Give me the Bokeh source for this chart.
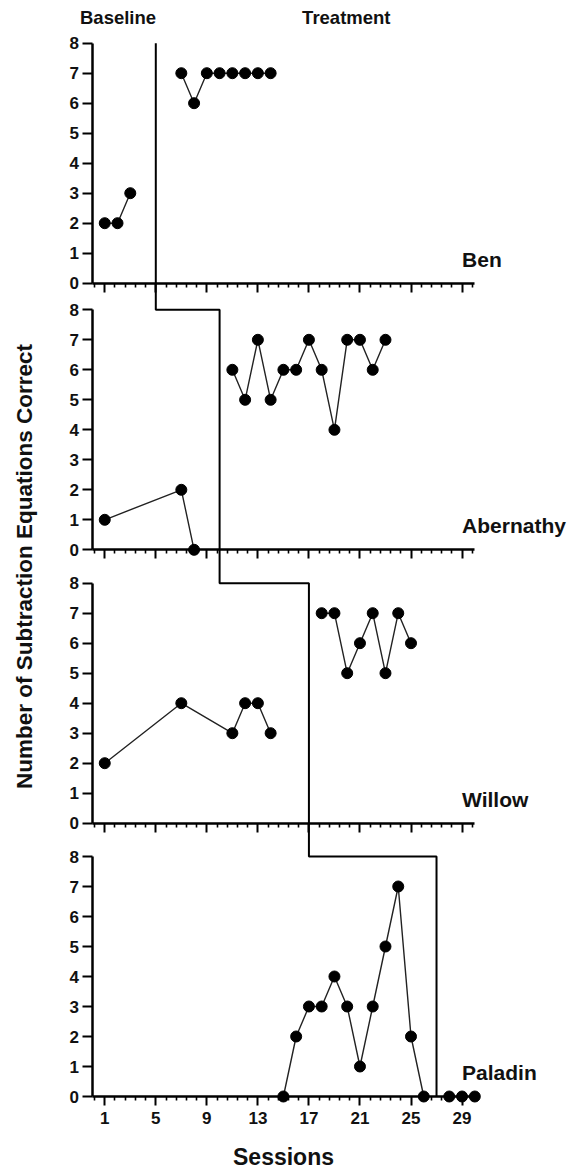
from bokeh.plotting import figure
from bokeh.models import Range1d, LinearAxis, FixedTicker
from bokeh.core.properties import value
from bokeh.embed import file_html
from bokeh.resources import INLINE

# ---------------- data ----------------
participants = ["Ben", "Abernathy", "Willow", "Paladin"]
phase_labels = ["Baseline", "Treatment"]
session_ticks = [1, 5, 9, 13, 17, 21, 25, 29]
count_ticks = [0, 1, 2, 3, 4, 5, 6, 7, 8]
phase_change = [5, 10, 17, 27]

ben_base_x = [1, 2, 3]
ben_base_y = [2, 2, 3]
ben_tx_x = [7, 8, 9, 10, 11, 12, 13, 14]
ben_tx_y = [7, 6, 7, 7, 7, 7, 7, 7]

abernathy_base_x = [1, 7, 8]
abernathy_base_y = [1, 2, 0]
abernathy_tx_x = [11, 12, 13, 14, 15, 16, 17, 18, 19, 20, 21, 22, 23]
abernathy_tx_y = [6, 5, 7, 5, 6, 6, 7, 6, 4, 7, 7, 6, 7]

willow_base_x = [1, 7, 11, 12, 13, 14]
willow_base_y = [2, 4, 3, 4, 4, 3]
willow_tx_x = [18, 19, 20, 21, 22, 23, 24, 25]
willow_tx_y = [7, 7, 5, 6, 7, 5, 7, 6]

paladin_base_x = [15, 16, 17, 18, 19, 20, 21, 22, 23, 24, 25, 26]
paladin_base_y = [0, 2, 3, 3, 4, 3, 1, 3, 5, 7, 2, 0]
paladin_tx_x = [28, 29, 30]
paladin_tx_y = [0, 0, 0]

series = [
    [(ben_base_x, ben_base_y), (ben_tx_x, ben_tx_y)],
    [(abernathy_base_x, abernathy_base_y), (abernathy_tx_x, abernathy_tx_y)],
    [(willow_base_x, willow_base_y), (willow_tx_x, willow_tx_y)],
    [(paladin_base_x, paladin_base_y), (paladin_tx_x, paladin_tx_y)],
]

# ---------------- layout ----------------
W, H = 573, 1168
ORIGIN_PX = 91.5
PX_PER_SESSION = 12.76
PX_PER_UNIT = 30.0
ZERO_PX = [282.7, 549.3, 822.7, 1096.0]
FONT_NAME = "Liberation Sans"
FONT = value(FONT_NAME)


def panel_range(zero_px):
    s = (zero_px - H) / PX_PER_UNIT
    return Range1d(s, s + H / PX_PER_UNIT)


x0 = -ORIGIN_PX / PX_PER_SESSION
p = figure(width=W, height=H, output_backend="svg", toolbar_location=None,
           x_axis_location=None, y_axis_location=None,
           min_border_left=0, min_border_right=0,
           min_border_top=0, min_border_bottom=0,
           x_range=Range1d(x0, x0 + W / PX_PER_SESSION),
           y_range=panel_range(ZERO_PX[0]))
p.outline_line_color = None
p.background_fill_color = "white"
p.border_fill_color = "white"
p.extra_y_ranges = {f"p{k}": panel_range(ZERO_PX[k]) for k in range(4)}

minor = [round(0.2 + 0.8 * i, 2) for i in range(38)]
minor = [m for m in minor if m not in session_ticks]

for k in range(4):
    rn = f"p{k}"
    # x axis at y=0 of this panel
    xa = LinearAxis(y_range_name=rn, fixed_location=0, bounds=(0, 30),
                    ticker=FixedTicker(ticks=session_ticks, minor_ticks=minor))
    xa.axis_line_width = 2.5
    xa.axis_line_color = "black"
    xa.major_tick_out = 9
    xa.major_tick_in = 0
    xa.minor_tick_out = 4
    xa.minor_tick_in = 0
    xa.major_tick_line_width = 2
    xa.minor_tick_line_width = 1.6
    xa.major_tick_line_color = "black"
    xa.minor_tick_line_color = "black"
    xa.major_label_text_font = FONT_NAME
    xa.major_label_text_font_style = "bold"
    xa.major_label_text_font_size = "17px"
    xa.major_label_text_color = "#111111" if k == 3 else None
    xa.major_label_standoff = 6
    if k == 3:
        xa.axis_label = "Sessions"
        xa.axis_label_text_font = FONT_NAME
        xa.axis_label_text_font_style = "bold"
        xa.axis_label_text_font_size = "23px"
        xa.axis_label_text_color = "#111111"
        xa.axis_label_standoff = 17
    p.add_layout(xa, "below")

    # y axis at x=0
    ya = LinearAxis(y_range_name=rn, fixed_location=0, bounds=(0, 8),
                    ticker=FixedTicker(ticks=count_ticks, minor_ticks=[]))
    ya.axis_line_width = 2.5
    ya.axis_line_color = "black"
    ya.major_tick_out = 10
    ya.major_tick_in = 0
    ya.major_tick_line_width = 2
    ya.major_tick_line_color = "black"
    ya.minor_tick_line_color = None
    ya.major_label_text_font = FONT_NAME
    ya.major_label_text_font_style = "bold"
    ya.major_label_text_font_size = "17px"
    ya.major_label_text_color = "#111111"
    ya.major_label_standoff = 3
    p.add_layout(ya, "left")

    # phase-change staircase
    if k == 0:
        sx = [phase_change[0], phase_change[0]]
        sy = [8, 0]
    else:
        top = (ZERO_PX[k] - ZERO_PX[k - 1]) / PX_PER_UNIT
        sx = [phase_change[k - 1], phase_change[k - 1], phase_change[k], phase_change[k]]
        sy = [top, 8, 8, 0]
    p.line(sx, sy, y_range_name=rn, line_color="black", line_width=2)

    # data
    for xs, ys in series[k]:
        p.line(xs, ys, y_range_name=rn, line_color="#222222", line_width=1.4)
        p.scatter(xs, ys, y_range_name=rn, size=11, marker="circle",
                  fill_color="black", line_color="black", level="overlay")

    # participant name
    p.text(x=[29.0], y=[0.8], text=[participants[k]], y_range_name=rn,
           text_font=FONT, text_font_style="bold", text_font_size="21px",
           text_align="left", text_baseline="middle", text_color="#111111")

# phase headers
p.text(x=[2.04, 19.93], y=[8.86, 8.86], text=phase_labels, y_range_name="p0",
       text_font=FONT, text_font_style="bold", text_font_size="18.5px",
       text_align="center", text_baseline="middle", text_color="#111111")

# overall y label (axis with label only)
c = (ZERO_PX[1] - 566.0) / PX_PER_UNIT
la = LinearAxis(y_range_name="p1", fixed_location=0, bounds=(c - 1, c + 1),
                ticker=FixedTicker(ticks=[], minor_ticks=[]))
la.axis_line_color = None
la.major_tick_line_color = None
la.minor_tick_line_color = None
la.major_label_text_color = None
la.axis_label = "Number of Subtraction Equations Correct"
la.axis_label_text_font = FONT_NAME
la.axis_label_text_font_style = "bold"
la.axis_label_text_font_size = "22.5px"
la.axis_label_text_color = "#111111"
la.axis_label_standoff = 56
p.add_layout(la, "left")

p.xgrid.grid_line_color = None
p.ygrid.grid_line_color = None

open("out.html", "w").write(file_html(p, INLINE))
